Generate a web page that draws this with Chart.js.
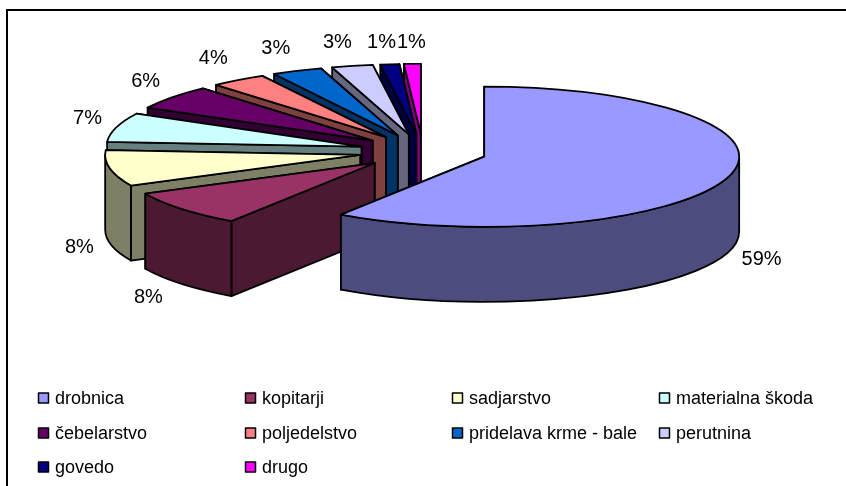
<!DOCTYPE html>
<html>
<head>
<meta charset="utf-8">
<script src="https://cdn.jsdelivr.net/npm/chart.js@4"></script>
<style>
html,body{margin:0;padding:0;background:#fff;overflow:hidden}
canvas{display:block}
</style>
</head>
<body>
<canvas id="c" width="846" height="486"></canvas>
<script>
const categories = ['drobnica','kopitarji','sadjarstvo','materialna škoda','čebelarstvo','poljedelstvo','pridelava krme - bale','perutnina','govedo','drugo'];
const shares = [59.49,8.3,8.3,6.7,5.6,3.55,3.2,2.6,1.2,1.06];
const colors = ['#9999FF','#993366','#FFFFCC','#CCFFFF','#660066','#FF8080','#0066CC','#CCCCFF','#000080','#FF00FF'];
const labelNudgeX = [4,-10,0,1,-2,-7,-9,-8,-5,0];
const labelNudgeY = [0,-2,0,-2,-1,-2,0,0,2,3];

const squash = 0.275, depth = 75;
const legendColumns = [38,245,452,659], legendRows = [398,433,467];

function shade(hex){
  const n = parseInt(hex.slice(1),16);
  return `rgb(${(n>>16&255)>>1},${(n>>8&255)>>1},${(n&255)>>1})`;
}

const pie3d = {
  id:'pie3d',
  beforeDatasetsDraw(chart){
    const ctx = chart.ctx, arcs = chart.getDatasetMeta(0).data;
    ctx.save();
    // frame
    ctx.strokeStyle='#000'; ctx.lineWidth=2;
    ctx.beginPath(); ctx.moveTo(7,486); ctx.lineTo(7,10); ctx.lineTo(846,10); ctx.stroke();

    ctx.lineWidth=1.8; ctx.strokeStyle='#000'; ctx.lineJoin='round';
    for(let i=arcs.length-1;i>=0;i--){
      const a = arcs[i];
      const {x,y,startAngle,endAngle,outerRadius:R} = a.getProps(['x','y','startAngle','endAngle','outerRadius']);
      const mid=(startAngle+endAngle)/2, off=a.options.offset||0;
      const cx=x+off*Math.cos(mid), cy=y+off*Math.sin(mid)*squash;
      const px=t=>cx+R*Math.cos(t), py=t=>cy+R*Math.sin(t)*squash;
      const dark=shade(colors[i]);
      const walls=[startAngle,endAngle].sort((p,q)=>py(p)-py(q));
      ctx.fillStyle=dark;
      for(const t of walls){
        ctx.beginPath();
        ctx.moveTo(cx,cy); ctx.lineTo(px(t),py(t));
        ctx.lineTo(px(t),py(t)+depth); ctx.lineTo(cx,cy+depth); ctx.closePath();
        ctx.fill(); ctx.stroke();
      }
      const a1=Math.max(startAngle,0), a2=Math.min(endAngle,Math.PI);
      if(a2>a1){
        ctx.beginPath();
        ctx.ellipse(cx,cy,R,R*squash,0,a1,a2);
        ctx.lineTo(px(a2),py(a2)+depth);
        ctx.ellipse(cx,cy+depth,R,R*squash,0,a2,a1,true);
        ctx.closePath(); ctx.fill(); ctx.stroke();
      }
      ctx.fillStyle=colors[i];
      ctx.beginPath();
      ctx.moveTo(cx,cy);
      ctx.ellipse(cx,cy,R,R*squash,0,startAngle,endAngle);
      ctx.closePath(); ctx.fill(); ctx.stroke();
    }

    // percentage labels
    ctx.fillStyle='#000'; ctx.font='20px "Liberation Sans"'; ctx.textAlign='center'; ctx.textBaseline='middle';
    arcs.forEach((a,i)=>{
      const {x,y,startAngle,endAngle,outerRadius:R} = a.getProps(['x','y','startAngle','endAngle','outerRadius']);
      const mid=(startAngle+endAngle)/2, off=a.options.offset||0;
      const cos=Math.cos(mid), sin=Math.sin(mid);
      const lx=x+(off+R)*cos+31*cos+labelNudgeX[i];
      const ly=y+(off+R)*sin*squash+24*sin+(sin>0.1?depth:0)+labelNudgeY[i];
      ctx.fillText(Math.round(shares[i])+'%',lx,ly);
    });

    // legend
    ctx.font='18px "Liberation Sans"'; ctx.textAlign='left'; ctx.textBaseline='middle';
    categories.forEach((name,i)=>{
      const lx=legendColumns[i%4], ly=legendRows[Math.floor(i/4)];
      ctx.fillStyle=colors[i]; ctx.strokeStyle='#000'; ctx.lineWidth=1.5;
      ctx.fillRect(lx+.5,ly-5,10,10); ctx.strokeRect(lx+.5,ly-5,10,10);
      ctx.fillStyle='#000';
      ctx.fillText(name,lx+17,ly+1);
    });
    ctx.restore();
    return false;
  }
};

new Chart(document.getElementById('c'),{
  type:'pie',
  data:{labels:categories,datasets:[{data:shares,backgroundColor:colors,borderColor:'#000',borderWidth:1,offset:64}]},
  options:{
    responsive:false,animation:false,radius:255,
    layout:{padding:{bottom:183}},
    plugins:{legend:{display:false},tooltip:{enabled:false}}
  },
  plugins:[pie3d]
});
</script>
</body>
</html>
